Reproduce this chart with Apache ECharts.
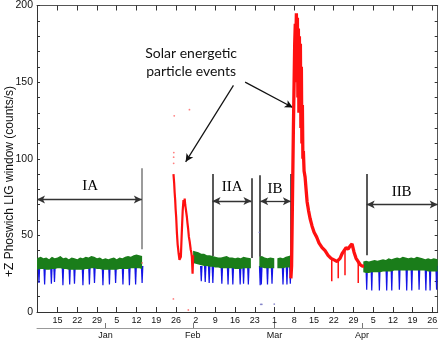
<!DOCTYPE html>
<html><head><meta charset="utf-8">
<script src="https://cdn.jsdelivr.net/npm/echarts@6/dist/echarts.min.js"></script>
<style>html,body{margin:0;padding:0;background:#fff;}#c{width:444px;height:342px;}</style>
</head><body><div id="c"></div>
<script>
// x values: days since 2003-12-01
const xMin = 6.7, xMax = 148.9;
const dayTicks = [14,21,28,35,42,49,56,63,70,77,84,91,98,105,112,119,126,133,140,147];
const dayLabels = ['15','22','29','5','12','19','26','2','9','16','23','1','8','15','22','29','5','12','19','26'];
const monthTicks = [31,62,91,122];
const monthLabels = ['Jan','Feb','Mar','Apr'];

// quiet-time band (green): day, upper edge, lower edge
const seg1Days = [6.7,8,9,10,11,12,13,14,15,16,17,18,19,20,21,22,23,24,25,26,27,28,29,30,31,32,33,34,35,36,37,38,39,40,41,42,43,44];
const seg1Hi = [35,36,35,35.5,34.5,36,35,35.5,36.5,35,35.5,34.5,35.5,35,34.5,35.5,35,36,35.5,36.5,36,35,35.5,34.5,35,34.5,35,35.5,34.5,35.5,35,36,36.5,36,37,37.5,37,36.5];
const seg1Lo = [27.5,28,28,27.5,27.5,28,28,28.5,28.5,28,28,27.5,27.5,27.5,27.5,27.5,27.5,28,28,28.5,28.5,28,28,27.5,27.5,27.5,27.5,27.5,27.5,28,28,28,28,28.5,28.5,28.5,28.5,28];
const seg2Days = [62.1,63,64,65,66,67,68,69,70,71,72,73,74,75,76,77,78,79,80,81,82.6];
const seg2Hi = [40,39.5,39,38,38,37,37,36.5,36,35.5,35.5,36,36.5,35.5,35.5,35,35.5,35,36,35.5,35];
const seg2Lo = [32,31.5,31,30.5,30,30,29.5,29.5,29,29,28.5,28.5,28.5,28.5,28.5,28,28,28,28.5,28.5,28.5];
const seg3Days = [85.6,86.5,87.5,88.5,89.5,90.9];
const seg3Hi = [36,36.5,35.5,35,35.5,35];
const seg3Lo = [29,29,28.5,28.5,28.5,28.5];
const seg4Days = [92,93,94,95,96,96.8];
const seg4Hi = [35,35.5,35,36,36.5,37];
const seg4Lo = [28.5,28.5,28.5,29,29,29];
const seg5Days = [122.5,123.5,124.5,125.5,126.5,127.5,128.5,129.5,130.5,131.5,132.5,133.5,134.5,135.5,136.5,137.5,138.5,139.5,140.5,141.5,142.5,143.5,144.5,145.5,146.5,147.5,148.9];
const seg5Hi = [33,33.5,33,33.5,34,33.5,34,34.5,34,35,34.5,35,35.5,35,36,35.5,35,35.5,35,36,35.5,35,34.5,35,34.5,35,34.5];
const seg5Lo = [26,25.5,25.5,26,26,26,26,26.5,26.5,26.5,26.5,27,27,27,27,27,27,27,27,27,27,27,27,26.5,26.5,26.5,26.5];

// perigee dips (blue)
const blueDays = [7.4,9.4,11.8,12.9,15.9,18.3,20.0,23.0,25.3,27.1,30.1,32.4,34.6,37.2,39.5,41.7,44.0,
  65.0,66.4,67.8,69.1,72.3,74.5,76.2,78.8,80.0,81.7,
  85.9,86.3,88.5,90.1,94.0,95.4,96.6,
  123.7,125.5,128.2,130.8,132.6,135.3,137.9,139.7,142.3,144.7,146.2,148.5];
const blueMins = [19,18,18.5,19.5,17.5,18,18.5,17.5,18,19,17.5,18,19,18,17.5,18,19,
  20,19.5,19,19,18.5,18,18,18,18.5,18,
  17.5,18,18,18.5,18,18,18.5,
  14.5,14,14,14,14,14.5,14,14,14.5,14,14,14.5];

// solar energetic particle events (red)
const red1Days = [55.13,55.38,55.55,55.74,55.9,56.09,56.34,56.62,56.98,57.26,57.51,57.76,58.04,58.40,58.68,58.9,59.11,59.3,59.46,59.89,60.1,60.35,60.6,60.88,61.23,61.45,61.66,61.91,62.12];
const red1Vals = [90,84,78,73,67,62,52,44,38,34,33,36,50,66,73,69,74,70,71,62,58,54,49,46,41,39,36,25,37];
const red2Days = [96.80,97.05,97.23,97.48,97.69,97.94,98.15,98.36,98.57,98.75,98.93,99.11,99.28,99.46,99.64,99.82,99.99,100.17,100.35,100.52,100.70,100.88,101.06,101.23,101.48,101.84,102.19,102.55,103.08,103.61,104.32,105.03,105.91,106.80,107.87,108.93,109.99,111.06,112.12,113.18,114.25,114.96,115.67,116.38,117.09,117.79,118.50,119.21,119.92,120.63,121.34,122.05,122.76];
const red2Vals = [22,30,55,90,120,150,175,188,178,195,150,192,140,185,130,180,135,175,120,160,110,135,100,105,92,88,80,72,66,61,56,52,49,45,42,40,37,35,34,33,35,38,40,42,41,43,44.5,39,35,33,31,30,30];
const redDipDays = [111.3,113.6,116.0,120.7];
const redDipTops = [35,33,40,32];
const redDipMins = [20,22,24,19];
const redDots = [[55.2,101],[55.2,97],[55.25,104],[55.4,128],[60.8,132],[55.1,8.5],[60.4,1.3],[44.0,32]];
const otherDots = [[86.5,5],[86.1,5],[85.6,52],[90.9,5.2]];

// annotation geometry (data coordinates)
const periodLines = [[43.9,41,93.8],[69.0,36.5,90],[82.8,35.2,87.3],[85.9,36,89.3],[96.8,36,90],[123.7,37.1,90]];
const periodArrows = [[6.7,43.9,73.4],[69.0,82.8,72.5],[85.9,96.8,72.3],[123.7,148.9,70.2]];
const periodNames = ['IA','IIA','IB','IIB'];
const periodLabelPos = [[25.6,82.3],[76.0,81.4],[91.2,80.1],[136.1,78.4]];
const sepText = 'Solar energetic\nparticle events';
const sepTextPos = [61.4,162.5];
const sepArrows = [[[76.41,147.9],[59.46,98.0]],[[80.56,150.0],[97.48,133.4]]];

const GREEN = '#1a7d1a', BLUE = '#1414e6', RED = '#ff1010';
const greenSegs = [
  {d:seg1Days,h:seg1Hi,l:seg1Lo},{d:seg2Days,h:seg2Hi,l:seg2Lo},{d:seg3Days,h:seg3Hi,l:seg3Lo},
  {d:seg4Days,h:seg4Hi,l:seg4Lo},{d:seg5Days,h:seg5Hi,l:seg5Lo}];

const markData = [];
periodLines.forEach((p,i)=>{
  markData.push([{coord:[p[0],p[1]],symbol:'none',lineStyle:{color:i===0?'#7a7a7a':'#222',width:1.5,type:'solid'}},{coord:[p[0],p[2]],symbol:'none'}]);
});
periodArrows.forEach(a=>{
  markData.push([{coord:[a[0],a[2]],symbol:'arrow',symbolSize:[6,8],lineStyle:{color:'#333',width:1.3,type:'solid'}},{coord:[a[1],a[2]],symbol:'arrow',symbolSize:[6,8]}]);
});
sepArrows.forEach(a=>{
  markData.push([{coord:a[0],symbol:'none',lineStyle:{color:'#111',width:1.2,type:'solid'}},{coord:a[1],symbol:'arrow',symbolSize:[6,8]}]);
});

const axisFont = 'Liberation Sans';
const option = {
  animation:false,
  backgroundColor:'#fff',
  grid:{left:37,right:6.3,top:5,bottom:30,containLabel:false},
  xAxis:[
    {type:'value',min:xMin,max:xMax,position:'bottom',
     axisLine:{show:true,onZero:false,lineStyle:{color:'#333',width:1}},
     axisTick:{show:true,inside:true,length:5,customValues:dayTicks,lineStyle:{color:'#333'}},
     axisLabel:{show:true,customValues:dayTicks,formatter:v=>dayLabels[dayTicks.indexOf(v)],fontSize:9,color:'#111',margin:4,fontFamily:axisFont},
     splitLine:{show:false}},
    {type:'value',min:xMin,max:xMax,position:'top',
     axisLine:{show:true,onZero:false,lineStyle:{color:'#555',width:1}},
     axisTick:{show:true,inside:true,length:5,customValues:dayTicks,lineStyle:{color:'#333'}},
     axisLabel:{show:false},splitLine:{show:false}},
    {type:'value',min:xMin,max:xMax,position:'bottom',offset:16,
     axisLine:{show:true,onZero:false,lineStyle:{color:'#999',width:1}},
     axisTick:{show:true,inside:true,length:5,customValues:monthTicks,lineStyle:{color:'#777'}},
     axisLabel:{show:true,customValues:monthTicks,formatter:v=>monthLabels[monthTicks.indexOf(v)],fontSize:9,color:'#111',margin:3,fontFamily:axisFont},
     splitLine:{show:false}}
  ],
  yAxis:[
    {type:'value',min:0,max:200,interval:10,position:'left',
     axisLine:{show:true,onZero:false,lineStyle:{color:'#333',width:1}},
     axisTick:{show:true,inside:true,length:3,lineStyle:{color:'#333'}},
     axisLabel:{show:true,formatter:v=>(v%50===0?String(v):''),fontSize:10.5,color:'#111',margin:4,fontFamily:axisFont},
     splitLine:{show:false}},
    {type:'value',min:0,max:200,interval:10,position:'right',
     axisLine:{show:true,onZero:false,lineStyle:{color:'#555',width:1}},
     axisTick:{show:true,inside:true,length:3,lineStyle:{color:'#333'}},
     axisLabel:{show:false},splitLine:{show:false}}
  ],
  series:[
    {type:'custom',name:'dips',coordinateSystem:'cartesian2d',xAxisIndex:0,yAxisIndex:0,clip:true,z:2,
     data:blueDays.map((d,i)=>[d,blueMins[i]]),
     renderItem:(params,api)=>{
       const b = api.coord([api.value(0),api.value(1)]);
       const t = api.coord([api.value(0),30]);
       return {type:'polygon',shape:{points:[[t[0]-1.3,t[1]],[t[0]+1.3,t[1]],[b[0]+0.6,b[1]],[b[0]-0.6,b[1]]]},style:{fill:BLUE}};
     }},
    {type:'custom',name:'quiet',coordinateSystem:'cartesian2d',xAxisIndex:0,yAxisIndex:0,clip:true,z:3,
     data:greenSegs.map((s,i)=>[s.d[0],s.l[0],i]),
     renderItem:(params,api)=>{
       const s = greenSegs[params.dataIndex];
       const pts = [];
       for (let k=0;k<s.d.length;k++) pts.push(api.coord([s.d[k],s.h[k]]));
       for (let k=s.d.length-1;k>=0;k--) pts.push(api.coord([s.d[k],s.l[k]]));
       return {type:'polygon',shape:{points:pts},style:{fill:GREEN}};
     }},
    {type:'custom',name:'reddips',coordinateSystem:'cartesian2d',xAxisIndex:0,yAxisIndex:0,clip:true,z:4,
     data:redDipDays.map((d,i)=>[d,redDipTops[i],redDipMins[i]]),
     renderItem:(params,api)=>{
       const t = api.coord([api.value(0),api.value(1)]);
       const b = api.coord([api.value(0),api.value(2)]);
       return {type:'line',shape:{x1:t[0],y1:t[1],x2:b[0],y2:b[1]},style:{stroke:RED,lineWidth:1.5}};
     }},
    {type:'line',name:'sep1',xAxisIndex:0,yAxisIndex:0,z:5,showSymbol:false,symbol:'none',
     data:red1Days.map((d,i)=>[d,red1Vals[i]]),lineStyle:{color:RED,width:2.2},
     markLine:{silent:true,animation:false,symbol:['none','none'],label:{show:false},emphasis:{disabled:true},data:markData}},
    {type:'line',name:'sep2',xAxisIndex:0,yAxisIndex:0,z:5,showSymbol:false,symbol:'none',
     data:red2Days.map((d,i)=>[d,red2Vals[i]]),lineStyle:{color:RED,width:3.3}},
    {type:'scatter',name:'reddots',xAxisIndex:0,yAxisIndex:0,z:5,symbolSize:1.8,
     data:redDots,itemStyle:{color:'#ff6060'}},
    {type:'scatter',name:'otherdots',xAxisIndex:0,yAxisIndex:0,z:5,symbolSize:1.8,
     data:otherDots,itemStyle:{color:'#7070c0'}}
  ]
};
const chart = echarts.init(document.getElementById('c'),null,{renderer:'canvas'});
chart.setOption(option);
const px = p => chart.convertToPixel({xAxisIndex:0,yAxisIndex:0},p);
const graphics = [];
periodNames.forEach((n,i)=>{
  const p = px(periodLabelPos[i]);
  graphics.push({type:'text',x:p[0],y:p[1],style:{text:n,fontSize:15,fontFamily:'Liberation Serif',fill:'#000',align:'center',verticalAlign:'middle'}});
});
const sp = px(sepTextPos);
graphics.push({type:'text',x:sp[0],y:sp[1],style:{text:sepText,fontSize:14,fontFamily:'Lato',lineHeight:18,fill:'#111',align:'center',verticalAlign:'middle'}});
graphics.push({type:'text',x:10,y:181.5,rotation:Math.PI/2,style:{text:'+Z Phoswich LIG window (counts/s)',fontSize:12,fontFamily:axisFont,fill:'#111',align:'center',verticalAlign:'middle'}});
chart.setOption({graphic:graphics});
</script></body></html>
